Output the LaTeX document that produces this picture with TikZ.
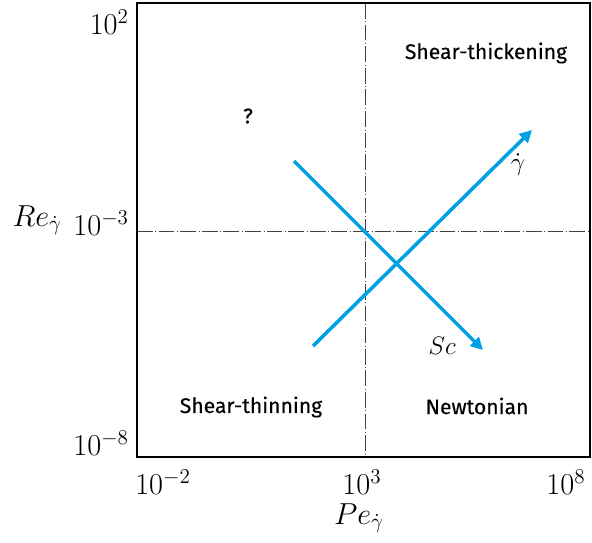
\documentclass[tikz,border=0pt]{standalone}
\usepackage{amsmath}
\usepackage{fontspec}
\newfontfamily\regfont[BoldFont={Fira Sans},BoldFeatures={FakeBold=0.3}]{Fira Sans}
\usetikzlibrary{arrows.meta}
\definecolor{flowblue}{RGB}{0,160,228}
\tikzset{
  regime/.style={font=\regfont\bfseries\fontsize{12}{14}\selectfont},
  ticklab/.style={inner sep=1pt,font=\fontsize{16.5}{18}\selectfont},
  arrlab/.style={inner sep=1pt,font=\fontsize{15}{17}\selectfont},
  guide/.style={draw=black!75,line width=0.5pt,dash pattern=on 9pt off 1.5pt on 0.3pt off 1.5pt},
  trend/.style={draw=flowblue,line width=2pt,-{Triangle[length=7pt,width=7pt]}}
}
\begin{document}
\begin{tikzpicture}[x=0.02cm,y=-0.02cm]
\useasboundingbox (0,0) rectangle (592,542);
% guide lines
\draw[guide] (365,3) -- (365,457);
\draw[guide] (137,231) -- (590,231);
% frame
\draw[line width=1.6pt] (137,3) rectangle (590,457);
% axis labels
\draw(131,22) node[ticklab,anchor=east] (y2) {$10^{2}$};
\draw(131,223) node[ticklab,anchor=east] (y3) {$10^{-3}$};
\draw(131,443) node[ticklab,anchor=east] (y8) {$10^{-8}$};
\draw(64,220) node[ticklab,anchor=east] (ylab) {$Re_{\dot\gamma}$};
\draw(163,482) node[ticklab] (x2) {$10^{-2}$};
\draw(362,482) node[ticklab] (x3) {$10^{3}$};
\draw(566,482) node[ticklab] (x8) {$10^{8}$};
\draw(359,518) node[ticklab] (xlab) {$Pe_{\dot\gamma}$};
% regimes
\draw(486,53) node[regime] (thick) {Shear-thickening};
\draw(251,407) node[regime] (thin) {Shear-thinning};
\draw(477,406) node[regime] (newt) {Newtonian};
\draw(248,116) node[regime] (unk) {?};
% trends
\coordinate (g0) at (313,346);
\coordinate (g1) at (532,130);
\coordinate (s0) at (294,161);
\coordinate (s1) at (483,350);
\draw[trend] (g0) -- (g1);
\draw[trend] (s0) -- (s1);
\draw(518,165) node[arrlab] (gdot) {$\dot\gamma$};
\draw(442,346) node[arrlab] (sc) {$Sc$};
\end{tikzpicture}
\end{document}
